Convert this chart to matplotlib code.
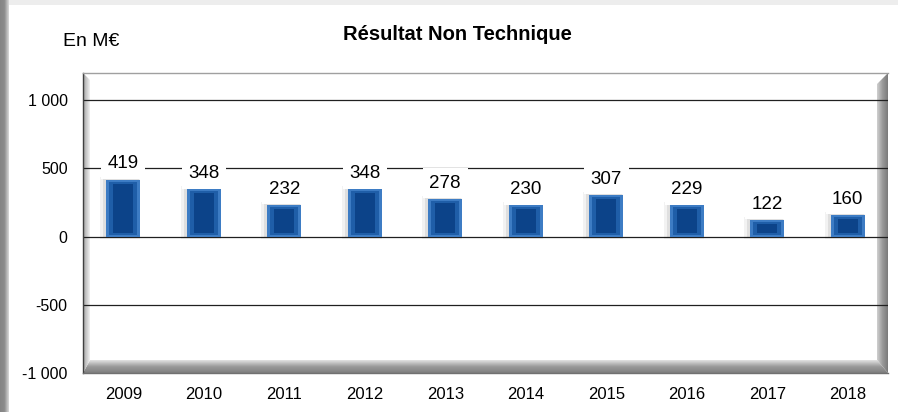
import numpy as np
import matplotlib
matplotlib.use("Agg")
import matplotlib.pyplot as plt
from matplotlib.patches import Polygon
from matplotlib.colors import LinearSegmentedColormap

# data
years = ['2009', '2010', '2011', '2012', '2013', '2014', '2015', '2016', '2017', '2018']
resultat = [419, 348, 232, 348, 278, 230, 307, 229, 122, 160]
y_ticks = [-1000, -500, 0, 500, 1000]
y_tick_labels = ['-1 000', '-500', '0', '500', '1 000']

plt.rcParams['font.family'] = ['Liberation Sans', 'DejaVu Sans']

W, H = 898, 412
fig = plt.figure(figsize=(W / 100, H / 100), dpi=100)
fig.patch.set_facecolor('white')

# grey frame strips (left gradient + top band)
lax = fig.add_axes([0, 0, 9 / W, 1])
lax.imshow(np.linspace(0, 1, 32).reshape(1, -1), aspect='auto',
           cmap=LinearSegmentedColormap.from_list('l', ['#858585', '#8c8c8c', '#d8d8d8']),
           extent=[0, 1, 0, 1])
lax.axis('off')
tax = fig.add_axes([9 / W, 1 - 5 / H, 1 - 9 / W, 5 / H])
tax.set_facecolor('#ededed')
tax.set_xticks([]); tax.set_yticks([])
for s in tax.spines.values():
    s.set_visible(False)

# main plot area (pixels: x 83..888, y 73..373)
PW, PH = 805, 300
ax = fig.add_axes([83 / W, 39 / H, PW / W, PH / H])


def grad(verts_px, colors, vertical, z):
    # verts given in axes pixels, converted to axes fraction
    verts = [(vx / PW, vy / PH) for vx, vy in verts_px]
    poly = Polygon(verts, closed=True, transform=ax.transAxes, fc='none', ec='none')
    ax.add_patch(poly)
    xs = [v[0] for v in verts]
    ys = [v[1] for v in verts]
    g = np.linspace(0, 1, 64)
    img = g.reshape(-1, 1) if vertical else g.reshape(1, -1)
    im = ax.imshow(img, aspect='auto', origin='lower', interpolation='bilinear',
                   cmap=LinearSegmentedColormap.from_list('g', colors),
                   extent=[min(xs), max(xs), min(ys), max(ys)],
                   transform=ax.transAxes, zorder=z)
    im.set_clip_path(poly)


# 3d walls: floor, left wall, right wall
grad([(0, 0), (PW, 0), (PW - 11, 13), (7, 13)], ['#7f7f7f', '#9a9a9a', '#e2e2e2'], True, 0.5)
grad([(0, 0), (0, PH), (7, PH - 7), (7, 13)], ['#a0a0a0', '#f2f2f2'], False, 0.5)
grad([(PW, 0), (PW, PH), (PW - 11, PH - 11), (PW - 11, 13)], ['#d0d0d0', '#9a9a9a', '#7a7a7a'], False, 0.5)

x = np.arange(len(years))
ax.set_xlim(-0.5, len(years) - 0.5)
ax.set_ylim(-1000, 1200)

for yv in [1000, 500, 0, -500]:
    ax.axhline(yv, color='#202020', lw=0.9, zorder=1)

# bars: soft shadow, bevelled edge, dark core
px_y = 2200 / PH
px_x = 10 / PW
bw = 0.42
vals = np.array(resultat)
ax.bar(x - 3 * px_x, vals + 5 * px_y, width=bw + 6 * px_x, bottom=-2 * px_y,
       color='#000000', alpha=0.05, zorder=2)
ax.bar(x - 2 * px_x, vals + 3 * px_y, width=bw + 2 * px_x, bottom=0,
       color='#000000', alpha=0.08, zorder=2)
ax.bar(x, vals, width=bw, color='#3d7cc4', zorder=3)
ax.bar(x, vals - 4 * px_y, width=bw - 6 * px_x, bottom=2 * px_y, color='#1f5ea8', zorder=3)
ax.bar(x, vals - 8 * px_y, width=bw - 14 * px_x, bottom=4 * px_y, color='#0c4389', zorder=3)

for xi, v in zip(x, resultat):
    ax.annotate(str(v), (xi, v), xytext=(0, 8), textcoords='offset points',
                ha='center', va='baseline', fontsize=13.5, zorder=5,
                bbox=dict(boxstyle='square,pad=0.35', fc='white', ec='none'))

ax.set_xticks(x)
ax.set_xticklabels(years, fontsize=12)
ax.set_yticks(y_ticks)
ax.set_yticklabels(y_tick_labels, fontsize=11.5)
ax.tick_params(length=0)
ax.tick_params(axis='x', pad=10)
ax.tick_params(axis='y', pad=11)
ax.set_facecolor('white')
ax.spines['top'].set_color('#a0a0a0')
ax.spines['left'].set_color('#404040')
ax.spines['right'].set_visible(False)
ax.spines['bottom'].set_color('#707070')
for s in ax.spines.values():
    s.set_linewidth(1.0)

fig.text(457 / W, 1 - 34 / H, 'Résultat Non Technique', ha='center', va='center',
         fontsize=14.5, fontweight='bold')
fig.text(63 / W, 1 - 42 / H, 'En M€', ha='left', va='center', fontsize=14)

fig.savefig('out.png', dpi=100)
